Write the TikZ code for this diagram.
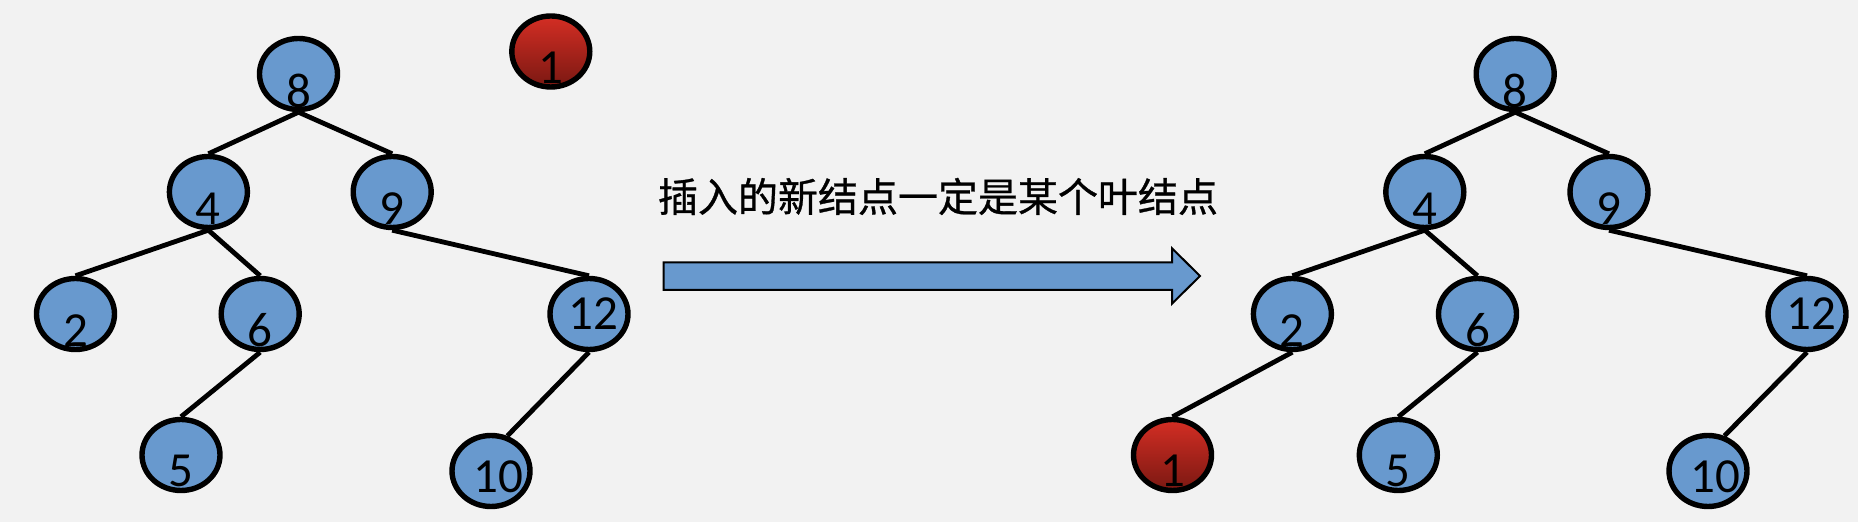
\documentclass[tikz,border=0pt]{standalone}
\usepackage{fontspec}
\usetikzlibrary{shapes.geometric}
\newfontfamily\digitfont{Carlito}
\newfontfamily\cjk{Noto Sans CJK SC}[FakeBold=0.8]
\definecolor{bg}{HTML}{F2F2F2}
\definecolor{nblue}{RGB}{104,153,206}
\definecolor{rtop}{RGB}{212,46,36}
\definecolor{rbot}{RGB}{122,24,18}
\begin{document}
\begin{tikzpicture}[x=0.5pt,y=-0.5pt,
  bn/.style={ellipse, draw=black, line width=2.7pt, fill=nblue,
    minimum width=39pt, minimum height=35.5pt, inner sep=0pt},
  rn/.style={bn, top color=rtop, bottom color=rbot},
  num/.style={font={\digitfont\fontsize{24.5}{29}\selectfont}, inner sep=0pt},
  edge/.style={line width=2.4pt},
  arrowbody/.style={draw=black, line width=1pt, fill=nblue, line join=miter},
  msgtext/.style={font={\cjk\fontsize{20}{24}\selectfont}, inner sep=0pt}
]
\useasboundingbox[fill=bg] (0,0) rectangle (1858,522);

% left tree
\node[bn, label={[num,yshift=-8.5pt]center:8}] (L8) at (298.5,74) {};
\node[bn, label={[num,yshift=-8.5pt]center:4}] (L4) at (208.4,192) {};
\node[bn, label={[num,yshift=-8.3pt]center:9}] (L9) at (392.2,192) {};
\node[bn, label={[num,yshift=-8.5pt]center:2}] (L2) at (75.5,314) {};
\node[bn, label={[num,yshift=-8.3pt]center:6}] (L6) at (260.2,314) {};
\node[bn, label={[num,xshift=2pt]center:12}] (L12) at (589,314) {};
\node[bn, label={[num,yshift=-8pt]center:5}] (L5) at (181,455) {};
\node[bn, label={[num,xshift=3.5pt,yshift=-3pt]center:10}] (L10) at (491,471) {};
\node[rn, label={[num,yshift=-8pt]center:1}] (L1) at (550.8,51.5) {};

\draw[edge] (L8.south) -- (L4.north);
\draw[edge] (L8.south) -- (L9.north);
\draw[edge] (L4.south) -- (L2.north);
\draw[edge] (L4.south) -- (L6.north);
\draw[edge] (L9.south) -- (L12.north);
\draw[edge] (L6.south) -- (L5.north);
\draw[edge] (L12.south) -- (L10.65);

% message and arrow
\node[msgtext] (msg) at (938,196.5) {插入的新结点一定是某个叶结点};
\coordinate (a1) at (663.7,262.5);
\coordinate (a2) at (1172,262.5);
\coordinate (a3) at (1172,248.3);
\coordinate (a4) at (1200,276);
\coordinate (a5) at (1172,303.7);
\coordinate (a6) at (1172,290);
\coordinate (a7) at (663.7,290);
\draw[arrowbody] (a1) -- (a2) -- (a3) -- (a4) -- (a5) -- (a6) -- (a7) -- cycle;

% right tree
\node[bn, label={[num,yshift=-8.5pt]center:8}] (R8) at (1515.2,74) {};
\node[bn, label={[num,yshift=-8.5pt]center:4}] (R4) at (1424.8,192) {};
\node[bn, label={[num,yshift=-8.3pt]center:9}] (R9) at (1609,192) {};
\node[bn, label={[num,yshift=-8.5pt]center:2}] (R2) at (1292.4,314) {};
\node[bn, label={[num,yshift=-8.3pt]center:6}] (R6) at (1477.5,314) {};
\node[bn, label={[num,xshift=2pt]center:12}] (R12) at (1807,314) {};
\node[rn, label={[num,yshift=-8pt]center:1}] (R1) at (1172.5,455) {};
\node[bn, label={[num,yshift=-8pt]center:5}] (R5) at (1398.3,455) {};
\node[bn, label={[num,xshift=3.5pt,yshift=-3pt]center:10}] (R10) at (1708,471) {};

\draw[edge] (R8.south) -- (R4.north);
\draw[edge] (R8.south) -- (R9.north);
\draw[edge] (R4.south) -- (R2.north);
\draw[edge] (R4.south) -- (R6.north);
\draw[edge] (R9.south) -- (R12.north);
\draw[edge] (R2.south) -- (R1.north);
\draw[edge] (R6.south) -- (R5.north);
\draw[edge] (R12.south) -- (R10.65);
\end{tikzpicture}
\end{document}
